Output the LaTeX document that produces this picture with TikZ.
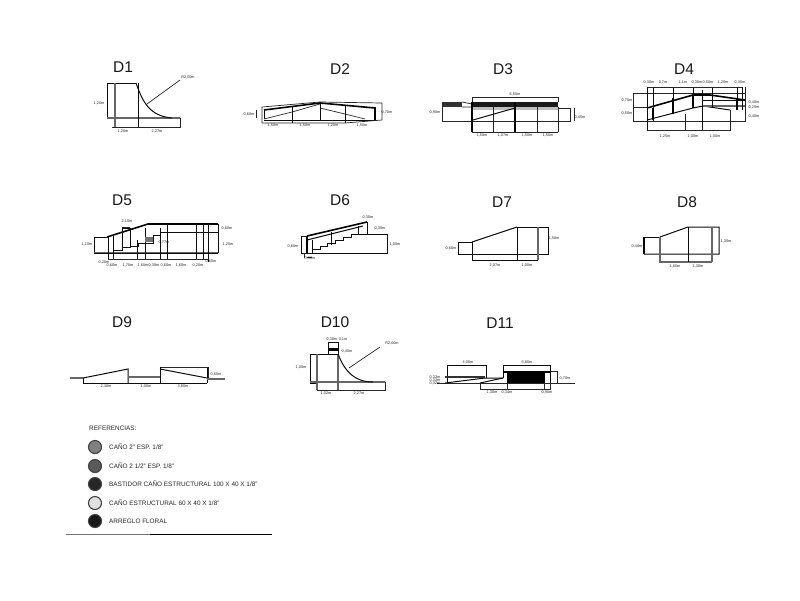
\documentclass[tikz,border=0pt]{standalone}
\usepackage{fontspec}
\setmainfont{Liberation Sans}
\newcounter{labc}
\tikzset{
  thinl/.style={draw=black!85,line width=0.7pt},
  medl/.style={draw=black!95,line width=1pt},
  heavy/.style={draw=black,line width=1.6pt},
  soft/.style={draw=black!60,line width=1.2pt},
  title/.style={inner sep=0pt,text=black!90,font=\fontsize{15.5}{16}\selectfont},
  dimtext/.style={inner sep=0pt,text=black!85,font=\fontsize{3.8}{4}\selectfont},
  reftext/.style={inner sep=0pt,anchor=west,text=black!85,font=\fontsize{6.4}{7}\selectfont},
  refdot/.style={circle,inner sep=0pt,minimum size=13pt,draw=black!75,line width=1.1pt}
}
\newcommand{\lab}[3]{\stepcounter{labc}\node[dimtext] (lab\thelabc) at (#1,#2) {#3};}
\begin{document}
\begin{tikzpicture}[x=1pt,y=-1pt]
\useasboundingbox (0,0) rectangle (800,600);
\fill[white] (0,0) rectangle (800,600);
% titles
\node[title] (t1) at (123,67) {D1};
\node[title] (t2) at (340,69) {D2};
\node[title] (t3) at (503,69) {D3};
\node[title] (t4) at (684,69) {D4};
\node[title] (t5) at (122,200) {D5};
\node[title] (t6) at (340,200) {D6};
\node[title] (t7) at (502,202) {D7};
\node[title] (t8) at (687,202) {D8};
\node[title] (t9) at (122,322) {D9};
\node[title] (t10) at (335,322) {D10};
\node[title] (t11) at (500,323) {D11};

% ---------- D1
\draw[medl] (107,118) -- (107,83) -- (136,83);
\draw[soft] (115,83) -- (115,127);
\draw[soft] (107,118) -- (180,118);
\draw[thinl] (112,127) -- (180,127) -- (180,118);
\draw[medl] (138,83) -- (138,128);
\draw[medl] (136,83) .. controls (143,103) and (150,116) .. (172,118);
\draw[thinl] (147,104) -- (180,80);
\lab{188}{77}{R2,00m}
\lab{99}{103}{1,20m}
\lab{123}{131}{1,20m}
\lab{157}{131}{2,27m}

% ---------- D2
\draw[thinl] (262,123) -- (262,107) -- (320,102) -- (382,103) -- (382,120);
\draw[heavy] (264,110) -- (320,103) -- (375,108) -- (375,120);
\draw[medl] (264,110) -- (264,119);
\draw[medl] (264,120) -- (375,120);
\draw[thinl] (264,119) -- (292,112) -- (320,104) (320,108) -- (345,114) -- (365,119);
\draw[medl] (292,106) -- (292,123) (320,102) -- (320,120);
\draw[medl] (345,106) -- (345,123);
\draw[thinl] (262,123) -- (345,123) (345,123) -- (382,120);
\draw[thinl] (256,110) -- (256,118);
\lab{249}{114}{0,60m}
\lab{387}{112}{0,70m}
\lab{273}{125.5}{1,50m}
\lab{305}{125.5}{1,50m}
\lab{333}{125.5}{1,20m}
\lab{362}{125.5}{1,50m}

% ---------- D3
\draw[thinl] (472,102) -- (472,97) -- (558,97) -- (558,102);
\fill[black!90] (472,102) rectangle (558,107);
\fill[black!25] (472,107) rectangle (558,110);
\fill[black!80] (443,102) rectangle (462,107);
\draw[thinl] (462,102) -- (472,104) (462,107) -- (472,107);
\draw[thinl] (442,102) -- (442,121) -- (570,121) -- (570,108) -- (558,108);
\draw[heavy] (472,102) -- (472,132) (515,102) -- (515,132);
\draw[thinl] (493,107) -- (493,132) (537,107) -- (537,132) (558,107) -- (558,132);
\draw[medl] (473,120) -- (515,108);
\draw[thinl] (472,132) -- (558,132);
\draw[thinl] (574,108) -- (574,121);
\lab{515}{94}{6,50m}
\lab{482}{135.5}{1,50m}
\lab{503}{135.5}{1,07m}
\lab{527}{135.5}{1,50m}
\lab{548}{135.5}{1,50m}
\lab{452}{104.5}{0,50m}
\lab{435}{112}{0,90m}
\lab{580}{117}{0,45m}

% ---------- D4
\draw[thinl] (633,93) -- (745,93) (633,93) -- (633,121) (633,107) -- (647,107);
\draw[thinl] (633,121) -- (745,121) -- (745,87);
\draw[heavy] (647,108) -- (693,95) -- (710,95) -- (745,100);
\draw[medl] (647,120) -- (693,108) -- (703,106) -- (730,110);
\draw[medl] (702,100) -- (745,100);
\draw[soft] (702,106) -- (745,106);
\foreach \xx/\ya/\yb in {647/87/130,653/87/121,673/87/108,693/87/108,702/90/130,712/87/108,737/87/110,742/87/110}
  {\draw[medl] (\xx,\ya) -- (\xx,\yb);}
\draw[heavy] (653,108) -- (653,120) (673,98) -- (673,114) (693,95) -- (693,108) (737,98) -- (737,110);
\draw[thinl] (647,87) -- (742,87);
\draw[thinl] (647,130) -- (730,130) -- (730,110) (685,114) -- (685,130);
\lab{649}{82}{0,30m}
\lab{663}{82}{0,7m}
\lab{683}{82}{1,1m}
\lab{697}{82}{0,30m}
\lab{708}{82}{0,50m}
\lab{723}{82}{1,20m}
\lab{740}{82}{0,30m}
\lab{627}{100}{0,70m}
\lab{627}{113}{0,50m}
\lab{754}{102}{0,40m}
\lab{754}{107}{0,25m}
\lab{754}{116}{0,40m}
\lab{665}{136}{1,25m}
\lab{693}{136}{1,00m}
\lab{715}{136}{1,00m}

% ---------- D5
\draw[medl] (107,237) -- (94,237) -- (94,253);
\draw[soft] (94,253) -- (218,253);
\draw[medl] (94,253.8) -- (218,253.8);
\draw[heavy] (107,237) -- (148,224) -- (218,224);
\draw[medl] (218,224) -- (218,253);
\draw[medl] (160,232) -- (218,232);
\draw[thinl] (122,227) -- (130,227);
\draw[medl] (122,228) -- (130,228) -- (130,247) -- (122,247) -- cycle;
\foreach \xx/\ya/\yb in {108/237/259,113/236/259,137/240/259,145/228/259,160/228/259,167/224/259,196/224/259,203/224/259,208/224/262}
  {\draw[medl] (\xx,\ya) -- (\xx,\yb);}
\fill[black!55] (145,237) rectangle (153,242);
\draw[medl] (130,246) -- (138,246) -- (138,243) -- (153,243) -- (153,235) -- (160,235);
\draw[medl] (113,250) -- (122,250) -- (122,247);
\draw[thinl] (108,259) -- (208,259);
\lab{127}{221}{2,10m}
\lab{87}{244}{1,10m}
\lab{227}{228}{0,60m}
\lab{228}{244}{1,20m}
\lab{164}{242}{0,77m}
\lab{104}{262}{0,20m}
\lab{112}{265.5}{0,60m}
\lab{128}{265.5}{1,70m}
\lab{143}{265.5}{1,60m}
\lab{154}{265.5}{0,30m}
\lab{166}{265.5}{0,60m}
\lab{181}{265.5}{1,60m}
\lab{198}{265.5}{0,20m}
\lab{211}{261}{0,60m}

% ---------- D6
\draw[heavy] (307,236) -- (367,222);
\draw[medl] (307,240) -- (363,226);
\draw[thinl] (301,236) -- (307,236);
\draw[medl] (301,236) -- (301,253);
\draw[heavy] (307,236) -- (307,253);
\draw[medl] (312,240) -- (312,253);
\draw[medl] (331,232) -- (331,245) (358,226) -- (358,234) (367,222) -- (367,234);
\draw[medl] (301,253) -- (387,253) -- (387,234) -- (358,234);
\draw[medl] (312,253) -- (312,249) -- (320,249) -- (320,246) -- (327,246) -- (327,243) -- (335,243) -- (335,240) -- (343,240) -- (343,237) -- (351,237) -- (351,234) -- (358,234);
\draw[thinl] (307,257) -- (312,257) (304,253) -- (304,258);
\lab{293}{246}{0,60m}
\lab{395}{244}{1,00m}
\lab{368}{217}{0,30m}
\lab{380}{228}{0,30m}
\lab{310}{258}{0,30m}

% ---------- D7
\draw[medl] (472,242) -- (458,242) -- (458,254) -- (548,254) -- (548,227) -- (517,227);
\draw[medl] (472,242) -- (517,227);
\draw[medl] (472,242) -- (472,260) -- (538,260);
\draw[medl] (517,227) -- (517,260);
\draw[soft] (538,227) -- (538,260);
\lab{451}{248}{0,60m}
\lab{554}{238}{1,50m}
\lab{495}{265}{2,07m}
\lab{527}{265}{1,00m}

% ---------- D8
\draw[medl] (660,237) -- (644,237);
\draw[heavy] (644,237) -- (644,254);
\draw[medl] (644,254) -- (719,254) -- (719,227) -- (688,227) -- (660,237);
\draw[soft] (660,237) -- (660,262) -- (712,262);
\draw[medl] (688,227) -- (688,262);
\draw[soft] (712,227) -- (712,262);
\lab{637}{246}{0,40m}
\lab{726}{241}{1,30m}
\lab{675}{266}{1,60m}
\lab{698}{266}{1,30m}

% ---------- D9
\draw[soft] (70,378) -- (83,378);
\draw[medl] (83,378) -- (128,369) -- (128,383);
\draw[medl] (83,378) -- (83,383) -- (207,383);
\draw[soft] (128,377) -- (160,377);
\draw[thinl] (160,367) -- (208,367);
\draw[medl] (160,369) -- (207,378);
\draw[medl] (160,367) -- (160,383) (207,368) -- (207,383);
\draw[thinl] (208,367) -- (208,378);
\draw[soft] (207,379) -- (225,379);
\lab{106}{386.5}{2,40m}
\lab{146}{386.5}{1,00m}
\lab{183}{386.5}{3,80m}
\lab{216}{374}{0,65m}

% ---------- D10
\draw[medl] (338,354) -- (310,354) -- (310,383) -- (317,383);
\draw[soft] (317,354) -- (317,390) (338,354) -- (338,390);
\draw[soft] (310,382) -- (385,382);
\draw[thinl] (317,390) -- (385,390) -- (385,382);
\draw[medl] (338,354) .. controls (345,372) and (355,382) .. (373,382);
\draw[thinl] (349,368) -- (380,347);
\draw[medl] (328,342) rectangle (338,354);
\fill[black] (328,348) rectangle (338,351);
\lab{392}{343}{R2,00m}
\lab{332}{339}{0,30m}
\lab{343}{339}{0,1m}
\lab{347}{351}{0,40m}
\lab{301}{367}{1,00m}
\lab{326}{393.5}{1,02m}
\lab{359}{393.5}{2,27m}

% ---------- D11
\draw[thinl] (437,383) -- (575,383);
\draw[medl] (447,383) -- (447,365) -- (486,365) -- (486,378);
\draw[medl] (503,378) -- (503,365) -- (550,365) -- (550,383);
\fill[black] (507,372) rectangle (545,383);
\fill[black] (503,371) rectangle (550,373);
\fill[black!80] (445,376) rectangle (485,378);
\draw[medl] (445,383) -- (485,378) -- (503,378);
\draw[medl] (480,383) -- (503,378);
\draw[thinl] (480,383) -- (480,389) -- (550,389) -- (550,383);
\draw[thinl] (507,383) -- (507,389) (544,383) -- (544,389);
\draw[thinl] (557,371) -- (557,383) (550,371) -- (557,371);
\lab{468}{362}{4,00m}
\lab{527}{362}{5,80m}
\lab{565}{378}{0,70m}
\lab{435}{377}{0,32m}
\lab{435}{380}{0,32m}
\lab{435}{383}{0,32m}
\lab{492}{392.5}{1,30m}
\lab{507}{392.5}{0,34m}
\lab{547}{392.5}{0,90m}

% ---------- references
\node[reftext] (rt) at (89,428) {REFERENCIAS:};
\node[refdot,fill=black!50] (r1) at (95,447) {};
\node[refdot,fill=black!65] (r2) at (95,466) {};
\node[refdot,fill=black!85] (r3) at (95,484) {};
\node[refdot,fill=black!12] (r4) at (95,503) {};
\node[refdot,fill=black!90] (r5) at (95,521) {};
\node[reftext] (s1) at (109,447) {CAÑO 2" ESP. 1/8"};
\node[reftext] (s2) at (109,466) {CAÑO 2 1/2" ESP. 1/8"};
\node[reftext] (s3) at (109,484) {BASTIDOR CAÑO ESTRUCTURAL 100 X 40 X 1/8"};
\node[reftext] (s4) at (109,503) {CAÑO ESTRUCTURAL 60 X 40 X 1/8"};
\node[reftext] (s5) at (109,521) {ARREGLO FLORAL};
\draw[draw=black!55,line width=1pt] (66,534) -- (150,534);
\draw[draw=black,line width=0.8pt] (150,534) -- (272,534);
\end{tikzpicture}
\end{document}
